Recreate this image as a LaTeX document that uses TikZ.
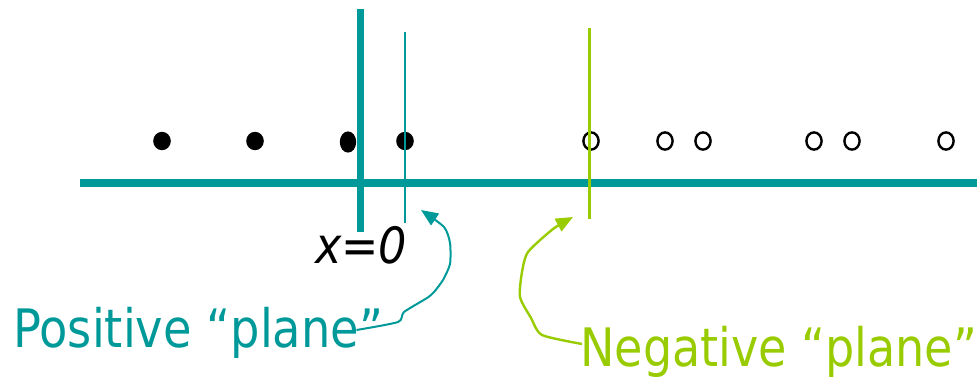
\documentclass[tikz,border=0pt]{standalone}
\usepackage{graphicx}
\usepackage{fontspec}
\setmainfont{DejaVu Sans}
\usetikzlibrary{arrows.meta,calc}
\definecolor{planeTeal}{HTML}{009999}
\definecolor{planeGreen}{HTML}{99CC00}
\newcommand{\fitwidth}[2]{\resizebox{#1}{\height}{#2}}
\tikzset{
    >={Triangle[length=17pt,width=14pt]},
    axis line/.style={planeTeal, line width=8pt},
    zero line/.style={planeTeal, line width=7pt},
    pos line/.style={planeTeal, line width=2pt},
    neg line/.style={planeGreen, line width=3pt},
    pos point/.style={fill=black},
    neg point/.style={draw=black, line width=2.4pt},
    plane label/.style={font=\fontsize{53}{58}\selectfont, inner sep=0pt},
    pointer/.style={line width=2pt, ->},
}

\begin{document}
\begin{tikzpicture}[x=1pt, y=-1pt]
\useasboundingbox (0,0) rectangle (977,378);

% Training points: filled = positive class, open = negative class.
\foreach \x in {162,255,405} {
    \fill[pos point] (\x,141) ellipse (8.8 and 9.2);
}
\fill[pos point] (348,142) ellipse (8.2 and 10.6);
\foreach \x in {591,665,703,814,852,946} {
    \draw[neg point] (\x,141) ellipse (7.6 and 8.6);
}

% Decision line x=0 and the two supporting "planes".
\draw[zero line] (360,9) -- (360,232);
\draw[pos line] (405,32) -- (405,223);
\draw[axis line] (80,183) -- (977,183);
\draw[neg line] (589,28) -- (589,219);

\node[font=\fontsize{50}{55}\selectfont\itshape, inner sep=0pt, anchor=base]
    (zero) at (361,263) {\fitwidth{92pt}{x=0}};

% Labels and their hand-drawn pointers.
\node[plane label, text=planeTeal, anchor=base west] (pos) at (13,347)
    {\fitwidth{370pt}{Positive “plane”}};
\node[plane label, text=planeGreen, anchor=base west] (neg) at (580,366)
    {\fitwidth{397pt}{Negative “plane”}};
\coordinate (posTip) at (421,210);
\coordinate (negTip) at (573,217);

\draw[pointer, planeTeal] plot[smooth, tension=0.4] coordinates
    {($(pos.base east)+(-27,-17)$) (398,322) (404,312) (427,298) (434,292)
     (443,280) (450,264) (450,243) (444,227) (posTip)};
\draw[pointer, planeGreen, line width=2.4pt] plot[smooth, tension=0.4] coordinates
    {($(neg.base west)+(2,-22)$) (542,335) (531,318) (520,297) (522,272)
     (528,252) (553,229) (negTip)};

\end{tikzpicture}
\end{document}
